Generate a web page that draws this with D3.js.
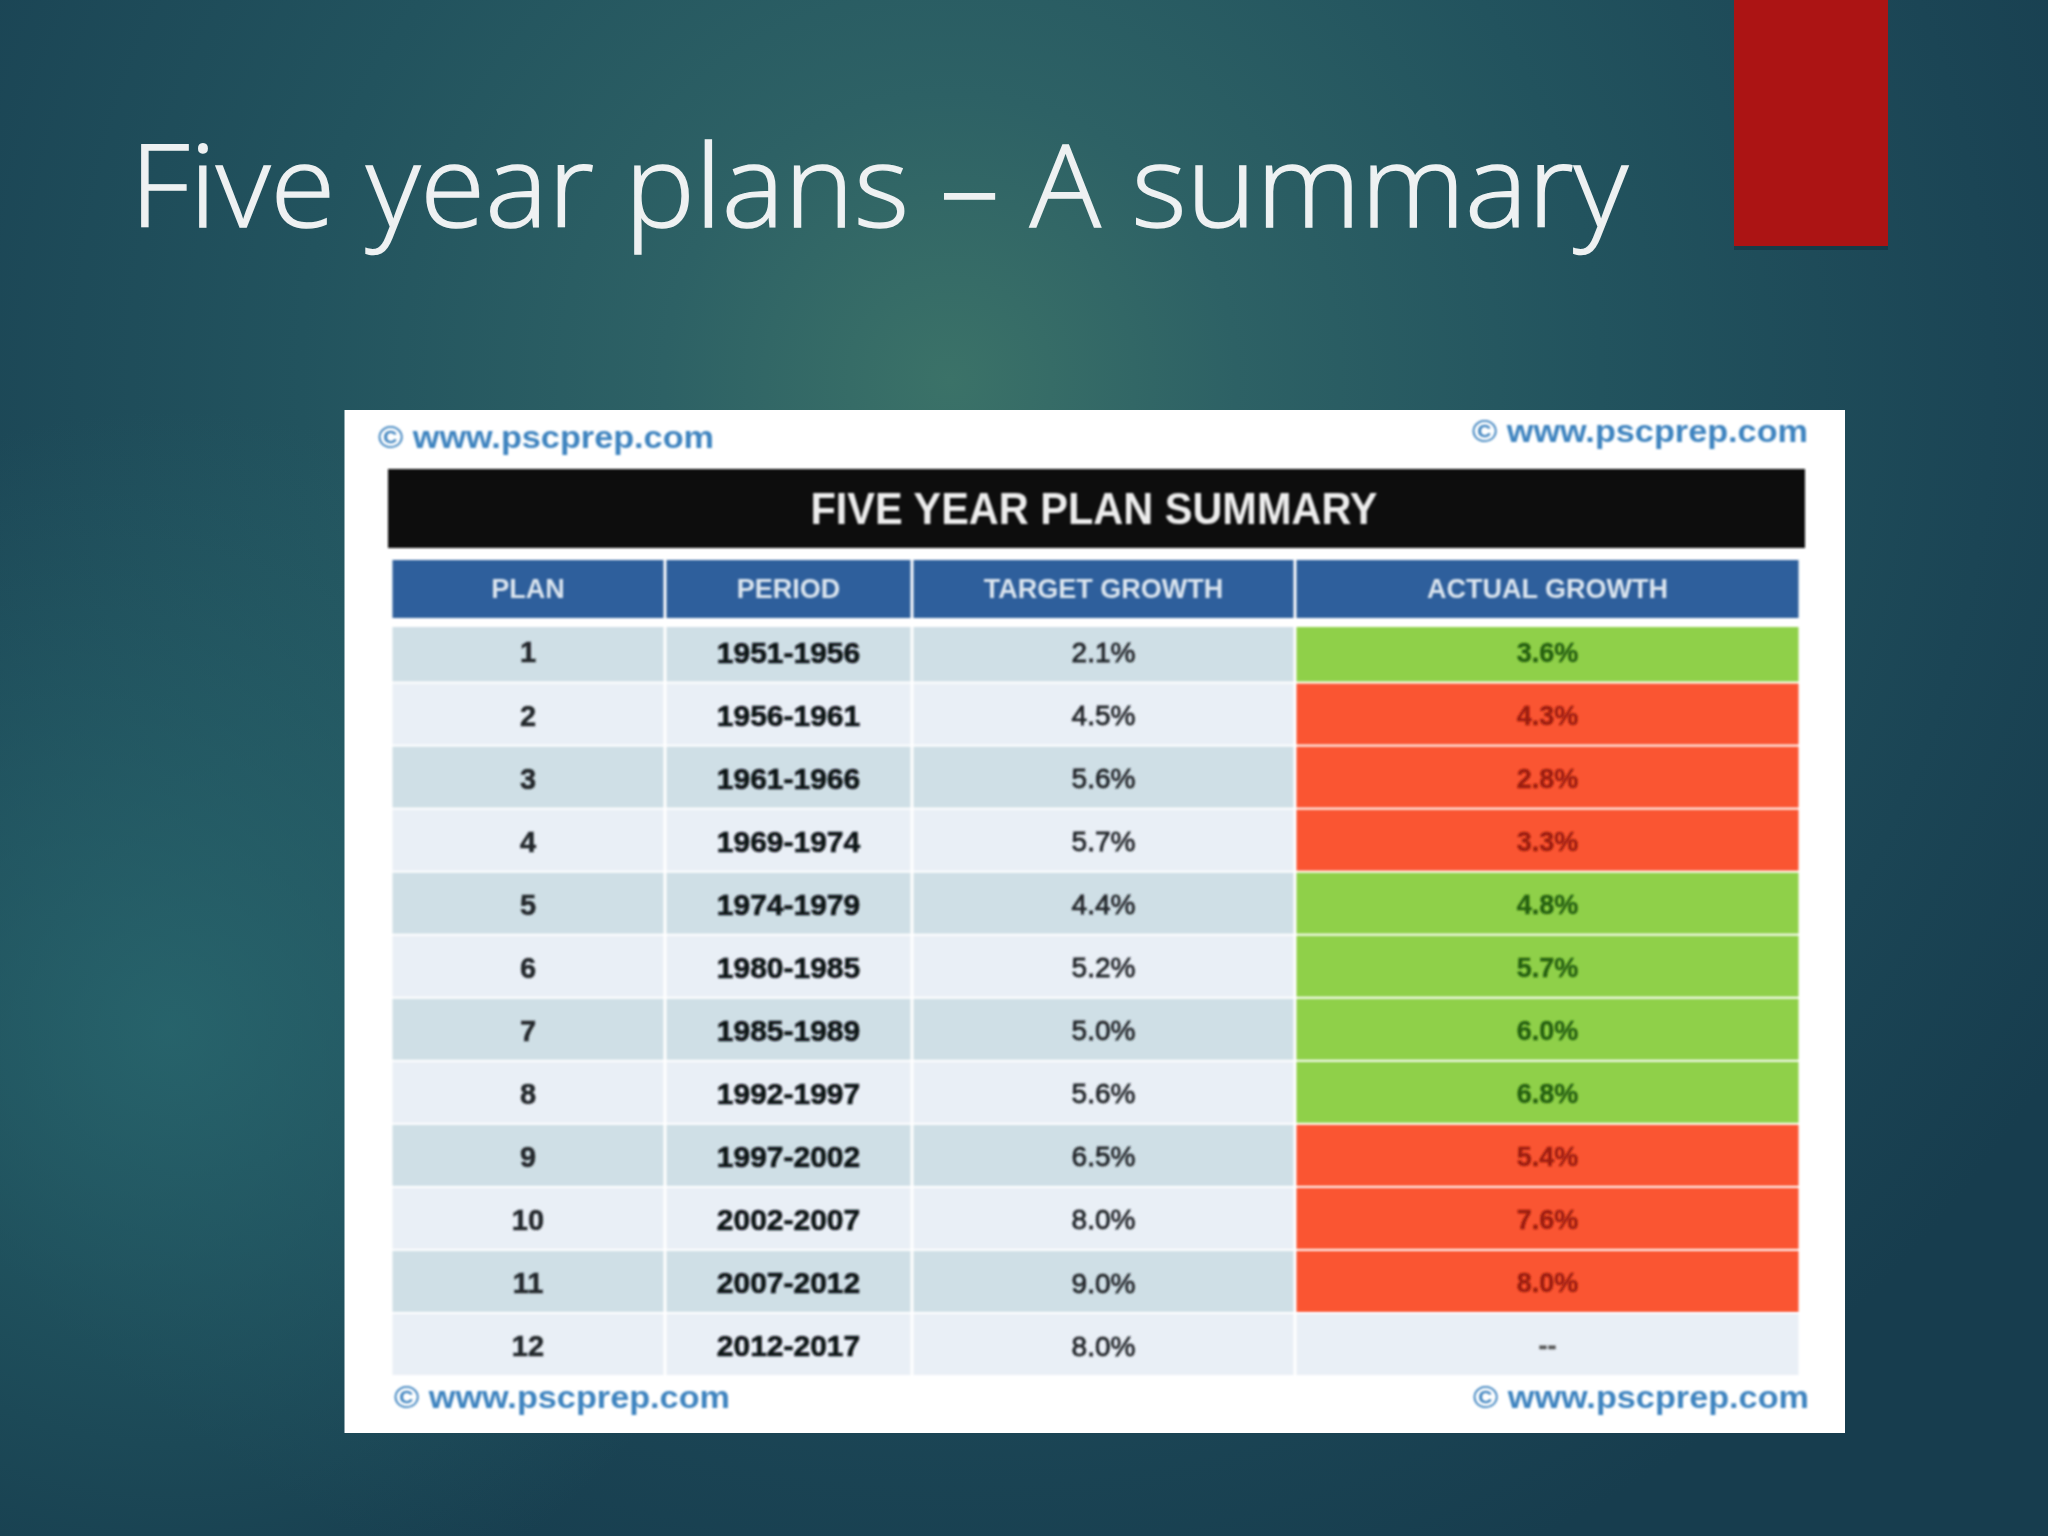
<!DOCTYPE html>
<html>
<head>
<meta charset="utf-8">
<title>Five year plans - A summary</title>
<script src="https://cdn.jsdelivr.net/npm/d3@7"></script>
<style>
  html, body { margin: 0; padding: 0; background: #163d4e; }
  svg { display: block; }
</style>
</head>
<body>
<div id="chart"></div>
<script>
/* ---- data ---- */
const plans = ["1", "2", "3", "4", "5", "6", "7", "8", "9", "10", "11", "12"];
const periods = ["1951-1956", "1956-1961", "1961-1966", "1969-1974", "1974-1979", "1980-1985",
  "1985-1989", "1992-1997", "1997-2002", "2002-2007", "2007-2012", "2012-2017"];
const targetGrowth = [2.1, 4.5, 5.6, 5.7, 4.4, 5.2, 5.0, 5.6, 6.5, 8.0, 9.0, 8.0];
const actualGrowth = [3.6, 4.3, 2.8, 3.3, 4.8, 5.7, 6.0, 6.8, 5.4, 7.6, 8.0, null];
const columns = ["PLAN", "PERIOD", "TARGET GROWTH", "ACTUAL GROWTH"];
const slideTitle = "Five year plans \u2013 A summary";
const tableTitle = "FIVE YEAR PLAN SUMMARY";
const watermark = "\u00a9 www.pscprep.com";

/* ---- layout ---- */
const W = 2048, H = 1536;
const colEdges = [391, 665, 912, 1295, 1800];
const colX = d3.scaleOrdinal(columns, colEdges);
const colEnd = d3.scaleOrdinal(columns, colEdges.slice(1));
const colMid = (c) => (colX(c) + colEnd(c)) / 2;
const y = d3.scaleBand().domain(plans).range([620.5, 1377]);
const rows = plans.map((p, i) => ({ plan: p, period: periods[i], target: targetGrowth[i], actual: actualGrowth[i], i }));
const fmt = d3.format(".1f");

const svg = d3.select("#chart").append("svg").attr("width", W).attr("height", H).attr("viewBox", `0 0 ${W} ${H}`);
const defs = svg.append("defs");

function radial(id, cx, cy, r, stops) {
  const g = defs.append("radialGradient").attr("id", id).attr("gradientUnits", "userSpaceOnUse")
    .attr("cx", cx).attr("cy", cy).attr("r", r);
  stops.forEach((s) => g.append("stop").attr("offset", s[0]).attr("stop-color", s[1]).attr("stop-opacity", s[2]));
}
radial("bgMain", 950, 380, 1300, [[0, "#3b7268", 1], [0.22, "#2d6165", 1], [0.5, "#22535e", 1], [0.8, "#1b4555", 1], [1, "#173d4e", 1]]);
radial("bgLeft", 170, 1030, 620, [[0, "#2a6a70", 0.8], [1, "#2a6a70", 0]]);
defs.append("filter").attr("id", "soft").attr("x", "-5%").attr("y", "-5%").attr("width", "110%").attr("height", "110%")
  .append("feGaussianBlur").attr("stdDeviation", 0.9);
defs.append("filter").attr("id", "softer").attr("x", "-5%").attr("y", "-5%").attr("width", "110%").attr("height", "110%")
  .append("feGaussianBlur").attr("stdDeviation", 1.25);

/* ---- slide background ---- */
svg.append("rect").attr("width", W).attr("height", H).attr("fill", "url(#bgMain)");
svg.append("rect").attr("width", W).attr("height", H).attr("fill", "url(#bgLeft)");
svg.append("rect").attr("x", 1734).attr("y", 0).attr("width", 154).attr("height", 250).attr("fill", "#10303c").attr("opacity", 0.55);
svg.append("rect").attr("x", 1734).attr("y", 0).attr("width", 154).attr("height", 246).attr("fill", "#ac1414");

svg.append("text").attr("x", 130).attr("y", 227)
  .attr("font-family", "'Open Sans', 'Noto Sans', sans-serif").attr("font-weight", 300).attr("font-size", 114)
  .attr("textLength", 1498).attr("lengthAdjust", "spacingAndGlyphs")
  .attr("stroke", "#eef1f2").attr("stroke-width", 1.4)
  .attr("fill", "#eef1f2").text(slideTitle);

/* ---- pasted table picture ---- */
svg.append("rect").attr("x", 344.5).attr("y", 410).attr("width", 1500.5).attr("height", 1023).attr("fill", "#fff");
const pic = svg.append("g").attr("filter", "url(#soft)");
const labels = svg.append("g").attr("filter", "url(#softer)");
const sans = "'Liberation Sans', Arial, sans-serif";

pic.append("rect").attr("x", 388).attr("y", 469).attr("width", 1417).attr("height", 79).attr("fill", "#0b0b0c");
labels.append("text").attr("x", 1094).attr("y", 524).attr("text-anchor", "middle")
  .attr("font-family", sans).attr("font-weight", 700).attr("font-size", 44)
  .attr("textLength", 567).attr("lengthAdjust", "spacingAndGlyphs")
  .attr("fill", "#ededed").text(tableTitle);

// header cells
pic.selectAll("rect.head").data(columns).join("rect").attr("class", "head")
  .attr("x", (c) => colX(c) + 1.5).attr("y", 560)
  .attr("width", (c) => colEnd(c) - colX(c) - 3).attr("height", 58)
  .attr("fill", "#2e5f9c");
labels.selectAll("text.head").data(columns).join("text").attr("class", "head")
  .attr("x", colMid).attr("y", 598).attr("text-anchor", "middle")
  .attr("font-family", sans).attr("font-weight", 700).attr("font-size", 27)
  .attr("fill", "#dbe5ef").text((c) => c);

// body rows, first three columns are striped
const rowTop = (d) => Math.max(y(d.plan), 627);
const rowH = (d) => y(d.plan) + y.bandwidth() - rowTop(d) - 2;
const stripe = (d) => (d.i % 2 === 0 ? "#cfdfe6" : "#e9eff6");

columns.forEach((c) => {
  pic.selectAll(null).data(rows).join("rect")
    .attr("x", colX(c) + 1.5).attr("y", rowTop)
    .attr("width", colEnd(c) - colX(c) - 3).attr("height", rowH)
    .attr("fill", (d) => {
      if (c !== "ACTUAL GROWTH") return stripe(d);
      if (d.actual === null) return "#e9eff6";
      return d.actual >= d.target ? "#8fd049" : "#fa5530";
    });
});

const cell = (cls, col, label, weight, size, fill, stroke) =>
  labels.selectAll("text." + cls).data(rows).join("text").attr("class", cls)
    .attr("x", colMid(col)).attr("y", (d) => y(d.plan) + y.bandwidth() / 2 + size * 0.36)
    .attr("text-anchor", "middle").attr("font-family", sans)
    .attr("font-weight", weight).attr("font-size", size)
    .attr("stroke", fill).attr("stroke-width", stroke)
    .attr("fill", fill).text(label);

cell("plan", "PLAN", (d) => d.plan, 700, 29, "#24282c", 0.5);
cell("period", "PERIOD", (d) => d.period, 700, 30, "#111418", 0.6);
cell("target", "TARGET GROWTH", (d) => fmt(d.target) + "%", 400, 28, "#22262a", 0.8);
cell("actual", "ACTUAL GROWTH", (d) => (d.actual === null ? "--" : fmt(d.actual) + "%"), 700, 27,
  (d) => (d.actual === null ? "#555" : d.actual >= d.target ? "#256010" : "#9a1c0c"), 0.4);

// watermarks in the four corners
const marks = [[378, 448], [1472, 442], [394, 1408], [1473, 1408]];
labels.selectAll("text.mark").data(marks).join("text").attr("class", "mark")
  .attr("x", (d) => d[0]).attr("y", (d) => d[1])
  .attr("font-family", sans).attr("font-weight", 700).attr("font-size", 31)
  .attr("textLength", 336).attr("lengthAdjust", "spacingAndGlyphs")
  .attr("fill", "#3d83bf").text(watermark);
</script>
</body>
</html>
